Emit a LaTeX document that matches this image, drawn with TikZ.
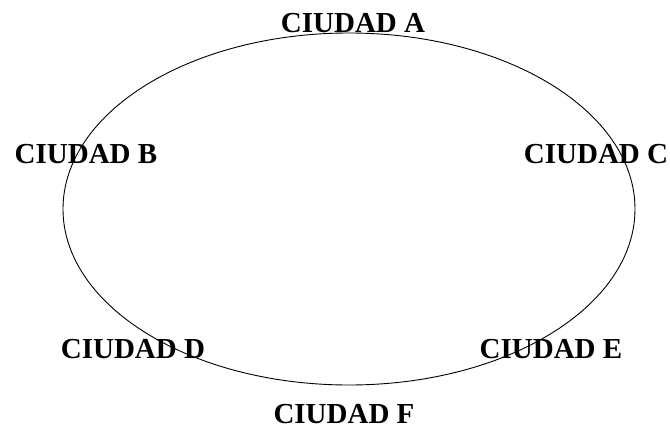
\documentclass[tikz,border=0pt]{standalone}
\usepackage{fontspec}
\setmainfont{Liberation Serif}
\begin{document}
\begin{tikzpicture}[x=1pt,y=-1pt,
  city/.style={font=\fontsize{29}{30}\selectfont\bfseries, inner sep=0pt, anchor=base}]
\useasboundingbox (0,0) rectangle (670,428);
\fill[white] (0,0) rectangle (670,428);
\draw[line width=0.9pt] (349,209) ellipse [x radius=286, y radius=176];
\node[city] (a) at (353,33) {CIUDAD A};
\node[city] (b) at (86,163) {CIUDAD B};
\node[city] (c) at (596,163) {CIUDAD C};
\node[city] (d) at (133,358) {CIUDAD D};
\node[city] (e) at (551,358) {CIUDAD E};
\node[city] (f) at (344,423) {CIUDAD F};
\end{tikzpicture}
\end{document}
